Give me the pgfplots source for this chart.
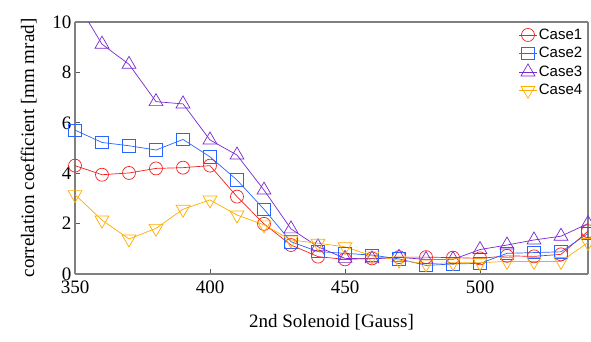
\documentclass[border=0pt]{standalone}
\usepackage{fontspec}
\setmainfont{Liberation Serif}
\newfontfamily\legfont{Liberation Sans}
\usepackage{pgfplots}
\pgfplotsset{compat=1.18}
\usepackage{pgfplotstable}
\definecolor{cred}{RGB}{245,30,30}
\definecolor{cblue}{RGB}{40,100,255}
\definecolor{cpurple}{RGB}{120,40,205}
\definecolor{corange}{RGB}{255,172,0}
\pgfplotstableread{
x c1 c2 c3 c4
350 4.30 5.71 10.9 3.15
360 3.94 5.22 9.12 2.14
370 4.01 5.09 8.32 1.39
380 4.19 4.92 6.84 1.81
390 4.22 5.34 6.75 2.57
400 4.30 4.65 5.32 2.94
410 3.07 3.73 4.72 2.34
420 1.99 2.57 3.33 1.95
430 1.15 1.28 1.79 1.35
440 0.69 0.89 1.08 1.22
450 0.58 0.82 0.62 1.08
460 0.62 0.75 0.60 0.72
470 0.67 0.60 0.66 0.55
480 0.67 0.34 0.58 0.40
490 0.65 0.40 0.58 0.45
500 0.62 0.42 0.97 0.45
510 0.72 0.82 1.15 0.50
520 0.70 0.85 1.35 0.50
530 0.78 0.88 1.50 0.50
540 1.70 1.61 2.00 1.25
}\datatable
\begin{document}
\begin{tikzpicture}
\path[use as bounding box] (0,0) rectangle (591pt,341pt);
\begin{axis}[
  at={(75pt,67pt)}, anchor=south west,
  scale only axis, width=513pt, height=252pt,
  xmin=350, xmax=540, ymin=0, ymax=10,
  xtick={350,400,450,500}, ytick={0,2,4,6,8,10},
  xticklabel={\pgfmathprintnumber{\tick}},
  yticklabel={\pgfmathprintnumber{\tick}},
  tick pos=left, tick align=inside, major tick length=5pt,
  tick style={gray!70!black, line width=0.8pt},
  axis line style={line width=0.8pt},
  separate axis lines,
  every outer x axis line/.append style={gray, line width=1.6pt},
  every outer y axis line/.append style={gray, line width=1.6pt},
  /pgf/number format/assume math mode=true,
  ticklabel style={font=\rmfamily\fontsize{19}{22}\selectfont},
  xticklabel style={yshift=-3pt},
  label style={font=\rmfamily\fontsize{19}{22}\selectfont},
  xlabel={2nd Solenoid [Gauss]},
  ylabel={correlation coefficient [mm mrad]},
  xlabel style={yshift=-14pt},
  ylabel style={yshift=9pt},
  legend style={draw=none, fill=none, at={(0.995,0.985)}, anchor=north east,
    font=\legfont\fontsize{15}{16}\selectfont, row sep=2.5pt, inner sep=1pt},
  legend cell align=left,
  every axis plot/.append style={line width=0.7pt},
]
\addplot[cred, mark=o, mark size=6.5pt, mark options={line width=0.7pt}] table[x=x,y=c1] {\datatable};
\addlegendentry{Case1}
\addplot[cblue, mark=square, mark size=6.2pt, mark options={line width=0.7pt}] table[x=x,y=c2] {\datatable};
\addlegendentry{Case2}
\addplot[cpurple, mark=triangle, mark size=8pt, mark options={line width=0.7pt}] table[x=x,y=c3] {\datatable};
\addlegendentry{Case3}
\addplot[corange, mark=triangle, mark size=8pt, mark options={line width=0.7pt, rotate=180}] table[x=x,y=c4] {\datatable};
\addlegendentry{Case4}
\end{axis}
\end{tikzpicture}
\end{document}
